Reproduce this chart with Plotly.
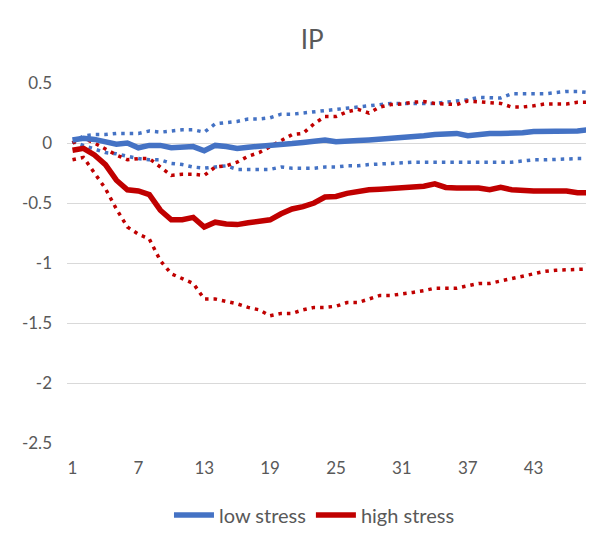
import plotly.graph_objects as go

# horizon (months)
months = list(range(1, 49))

# low stress regime: median response and bands
low_mid = [0.025, 0.04, 0.03, 0.01, -0.01, 0.0, -0.04, -0.02, -0.02, -0.04,
           -0.03, -0.03, -0.065, -0.02, -0.03, -0.045, -0.035, -0.03, -0.02, -0.01,
           -0.005, 0.005, 0.02, 0.025, 0.01, 0.02, 0.02, 0.025, 0.03, 0.035,
           0.04, 0.045, 0.06, 0.07, 0.075, 0.08, 0.06, 0.075, 0.08, 0.08,
           0.08, 0.085, 0.095, 0.095, 0.095, 0.095, 0.1, 0.11]
low_up = [0.0, 0.06, 0.07, 0.07, 0.08, 0.08, 0.08, 0.10, 0.09, 0.10,
          0.11, 0.11, 0.09, 0.16, 0.17, 0.18, 0.20, 0.20, 0.21, 0.24,
          0.24, 0.25, 0.26, 0.275, 0.28, 0.29, 0.30, 0.31, 0.32, 0.33,
          0.33, 0.33, 0.33, 0.33, 0.34, 0.35, 0.36, 0.38, 0.38, 0.375,
          0.41, 0.41, 0.41, 0.41, 0.42, 0.43, 0.43, 0.42]
low_lo = [0.01, -0.02, -0.05, -0.08, -0.09, -0.11, -0.13, -0.14, -0.14, -0.17,
          -0.18, -0.20, -0.21, -0.20, -0.19, -0.22, -0.22, -0.22, -0.22, -0.20,
          -0.21, -0.21, -0.21, -0.20, -0.20, -0.19, -0.19, -0.18, -0.175, -0.17,
          -0.16, -0.16, -0.16, -0.16, -0.16, -0.16, -0.16, -0.16, -0.16, -0.16,
          -0.16, -0.15, -0.14, -0.14, -0.135, -0.13, -0.13, -0.13]

# high stress regime: median response and bands
high_mid = [-0.06, -0.045, -0.10, -0.18, -0.31, -0.39, -0.40, -0.43, -0.56, -0.64,
            -0.64, -0.62, -0.70, -0.66, -0.675, -0.68, -0.665, -0.65, -0.64, -0.59,
            -0.55, -0.53, -0.50, -0.45, -0.445, -0.42, -0.40, -0.39, -0.385, -0.38,
            -0.37, -0.37, -0.36, -0.34, -0.37, -0.375, -0.375, -0.375, -0.39, -0.37,
            -0.39, -0.40, -0.40, -0.40, -0.40, -0.40, -0.415, -0.415]
high_up = [0.0, 0.04, 0.0, -0.05, -0.10, -0.14, -0.13, -0.13, -0.20, -0.27,
           -0.26, -0.26, -0.27, -0.20, -0.19, -0.16, -0.11, -0.08, -0.03, 0.02,
           0.07, 0.08, 0.16, 0.22, 0.22, 0.26, 0.28, 0.25, 0.30, 0.32,
           0.325, 0.34, 0.345, 0.33, 0.325, 0.32, 0.35, 0.345, 0.34, 0.33,
           0.30, 0.30, 0.31, 0.325, 0.325, 0.325, 0.34, 0.34]
high_lo = [-0.14, -0.12, -0.25, -0.38, -0.55, -0.70, -0.76, -0.80, -0.98, -1.09,
           -1.13, -1.17, -1.30, -1.30, -1.32, -1.34, -1.37, -1.39, -1.44, -1.42,
           -1.42, -1.39, -1.37, -1.37, -1.36, -1.33, -1.33, -1.30, -1.27, -1.27,
           -1.26, -1.245, -1.23, -1.21, -1.21, -1.21, -1.19, -1.17, -1.17, -1.15,
           -1.13, -1.115, -1.09, -1.07, -1.06, -1.055, -1.055, -1.05]

x_ticks = [1, 7, 13, 19, 25, 31, 37, 43]
y_ticks = [0.5, 0, -0.5, -1, -1.5, -2, -2.5]
y_labels = ['0.5', '0', '-0.5', '-1', '-1.5', '-2', '-2.5']

BLUE = '#4472C4'
RED = '#C00000'
GREY = '#595959'
dots = '3.5px,5px'

fig = go.Figure()
# dotted bands first, solid medians on top
for ys, c in [(low_up, BLUE), (low_lo, BLUE), (high_up, RED), (high_lo, RED)]:
    fig.add_trace(go.Scatter(x=months, y=ys, mode='lines', showlegend=False,
                             line=dict(color=c, width=3.5, dash=dots)))
fig.add_trace(go.Scatter(x=months, y=low_mid, mode='lines', name='low stress',
                         line=dict(color=BLUE, width=5.5)))
fig.add_trace(go.Scatter(x=months, y=high_mid, mode='lines', name='high stress',
                         line=dict(color=RED, width=5.5)))

# page body has an 8px margin, so the figure is 8px smaller than the window
fig.update_layout(
    width=586, height=537,
    paper_bgcolor='white', plot_bgcolor='white',
    margin=dict(l=59, r=0, t=75, b=102),
    font=dict(family='Lato, Open Sans, sans-serif', color=GREY, size=17),
    title=dict(text='IP', x=0.519, xanchor='center', y=0.941, yanchor='middle',
               font=dict(size=26, color=GREY)),
    legend=dict(orientation='h', xref='container', yref='container',
                x=0.523, xanchor='center', y=0.056, yanchor='middle',
                font=dict(size=20, color=GREY), itemwidth=40),
)
fig.update_xaxes(range=[0.5, 48.5], tickvals=x_ticks,
                 showgrid=False, zeroline=False, showline=False, ticks='',
                 ticklabelstandoff=13, tickfont=dict(size=17, color=GREY))
fig.update_yaxes(range=[-2.5, 0.5], showgrid=True, gridcolor='#D9D9D9',
                 gridwidth=1, zeroline=False, showline=False, ticks='',
                 tickvals=y_ticks, ticktext=y_labels,
                 ticklabelstandoff=14, tickfont=dict(size=17, color=GREY))

fig.write_html("out.html")
